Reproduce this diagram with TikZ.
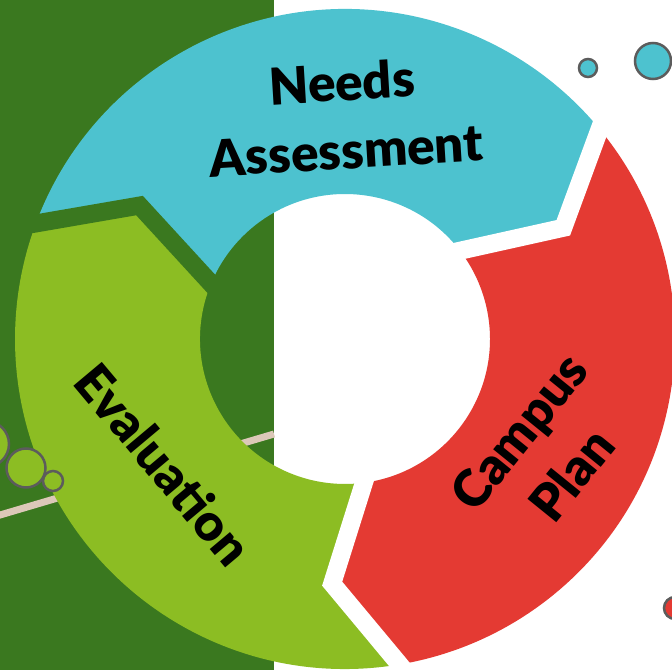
\documentclass[tikz,border=0pt]{standalone}
\usepackage{fontspec}
\setmainfont{Lato}[BoldFont={Lato Black}]
\usetikzlibrary{calc}
\definecolor{needsblue}{HTML}{4DC2CF}
\definecolor{evalgreen}{HTML}{8CBD23}
\definecolor{campusred}{HTML}{E43A33}
\definecolor{bggreen}{HTML}{3A781F}
\definecolor{pathtan}{HTML}{DCC8B8}
\definecolor{bubblegray}{HTML}{5C5C5C}
% one third of the ring, #2 is the angle where its arrow tip sits
\newcommand{\ringpart}[2]
{   \fill[#1] ({#2+120}:330) arc ({#2+120}:{#2}:330) -- ({#2-12.5}:245) -- ({#2-2}:145)
      arc ({#2-2}:{#2+118}:145) -- ({#2+107.5}:245) -- cycle;
}
% cut between two parts, in the colour behind them
\newcommand{\ringgap}[2]
{   \draw[#1, line width=18] ($({#2-12.5}:245)!1.25!({#2}:330)$) -- ({#2-12.5}:245)
      -- ($({#2-12.5}:245)!1.4!({#2-2}:145)$);
}
\newcommand{\bubble}[3]
{   \filldraw[fill=#1, draw=bubblegray, line width=2.5] #2 circle (#3);
}

\begin{document}
\begin{tikzpicture}[x=1pt, y=1pt,
  label/.style={font=\fontsize{51}{68}\selectfont\bfseries, align=center, text=black, inner sep=0}]

 \clip (-345,-331) rectangle (327,339);
 \fill[white] (-345,-331) rectangle (327,339);
 \fill[bggreen] (-345,-331) rectangle (-71,339);
 \draw[pathtan, line width=7] (-350,-177.5) -- (-71,-95);

 \ringpart{needsblue}{39.5}
 \ringpart{evalgreen}{159.5}
 \ringpart{campusred}{-80.5}
 \ringgap{white}{39.5}
 \ringgap{bggreen}{159.5}
 \ringgap{white}{-80.5}

 \bubble{evalgreen}{(-359,-105)}{23}
 \bubble{evalgreen}{(-319,-129)}{19.5}
 \bubble{evalgreen}{(-292,-142)}{10}
 \bubble{needsblue}{(243,271)}{9}
 \bubble{needsblue}{(308,278)}{18}
 \bubble{campusred}{(330,-269)}{11}

   \node[label, rotate=3.5] (needs) at (-1,223) {Needs\\Assessment};
   \node[label, rotate=-50] (evaluation) at (-181,-125) {Evaluation};
   \node[label, rotate=51] (campus) at (200,-114) {Campus\\Plan};

\end{tikzpicture}
\end{document}
